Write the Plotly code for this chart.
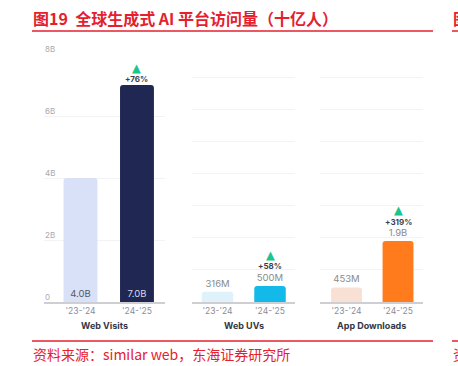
import plotly.graph_objects as go

W, H = 458, 366

categories = ["'23-'24", "'24-'25"]
panel_titles = ["Web Visits", "Web UVs", "App Downloads"]
web_visits = [4.0, 7.0]
web_uvs = [0.316, 0.500]
app_downloads = [0.453, 1.9]
visits_labels = ["4.0B", "7.0B"]
uvs_labels = ["316M", "500M"]
downloads_labels = ["453M", "1.9B"]
growth_labels = ["+76%", "+58%", "+319%"]
y_tick_vals = [0, 2, 4, 6, 8]
y_tick_text = ["0", "2B", "4B", "6B", "8B"]

RED = "#e5202e"
GREEN = "#1cc48e"
FONT = "Inter, Roboto, 'Noto Sans', sans-serif"
CJK = "'Noto Sans CJK SC', sans-serif"


def px_x(p):
    return p / W


def px_y(p):
    return 1 - p / H


fig = go.Figure()

panels = [
    dict(vals=web_visits, labels=visits_labels, colors=["#d9e1f8", "#1f2752"],
         textcolors=["#555a66", "#d6d9e4"], pos="inside",
         xr=[-0.646, 1.496], xd=[44, 165], ytop=54, dtick=2, grow_shift=(6, 17)),
    dict(vals=web_uvs, labels=uvs_labels, colors=["#dff1fa", "#12b9e9"],
         textcolors=["#8a8a8a", "#8a8a8a"], pos="outside",
         xr=[-0.486, 1.476], xd=[192, 295], ytop=45, dtick=1, grow_shift=(20, 31)),
    dict(vals=app_downloads, labels=downloads_labels, colors=["#f9e0d4", "#ff7b1c"],
         textcolors=["#8a8a8a", "#8a8a8a"], pos="outside",
         xr=[-0.515, 1.485], xd=[320, 423], ytop=45, dtick=1, grow_shift=(19, 31)),
]

annotations = []
for i, p in enumerate(panels):
    n = "" if i == 0 else str(i + 1)
    xa, ya = "x" + n, "y" + n
    fig.add_trace(go.Bar(
        x=[0, 1], y=p["vals"], xaxis=xa, yaxis=ya,
        marker=dict(color=p["colors"], line=dict(width=0)),
        width=0.6,
        text=p["labels"], textposition=p["pos"],
        insidetextanchor="start" if p["pos"] == "inside" else None,
        textfont=dict(family=FONT, size=9.5, color=p["textcolors"]),
        cliponaxis=False, hoverinfo="skip", showlegend=False,
    ))
    layout_x = dict(domain=[px_x(p["xd"][0]), px_x(p["xd"][1])], range=p["xr"],
                    tickvals=[0, 1], ticktext=categories, showgrid=False,
                    showline=True, linecolor="#cfcfd3", linewidth=2, ticks="",
                    tickfont=dict(family=FONT, size=8.5, color="#8a8c99"),
                    zeroline=False, fixedrange=True, anchor=ya)
    layout_y = dict(domain=[px_y(302), px_y(p["ytop"])], range=[0, 8], dtick=p["dtick"],
                    showgrid=True, gridcolor="#f3f3f5", gridwidth=1,
                    showticklabels=False, zeroline=False, showline=False,
                    ticks="", fixedrange=True, anchor=xa)
    fig.update_layout(**{"xaxis" + n: layout_x, "yaxis" + n: layout_y})

    cx = (p["xd"][0] + p["xd"][1]) / 2
    annotations.append(dict(x=px_x(cx), y=px_y(325), xref="paper", yref="paper",
                            text="<b>" + panel_titles[i] + "</b>", showarrow=False,
                            font=dict(family=FONT, size=9, color="#333844"),
                            xanchor="center", yanchor="middle"))
    top = p["vals"][1]
    annotations.append(dict(x=1, y=top, xref=xa, yref=ya, text="<b>" + growth_labels[i] + "</b>",
                            showarrow=False, yshift=p["grow_shift"][0],
                            font=dict(family=FONT, size=8, color="#3a3f4b"),
                            xanchor="center", yanchor="middle"))
    annotations.append(dict(x=1, y=top, xref=xa, yref=ya, text="▲",
                            showarrow=False, yshift=p["grow_shift"][1],
                            font=dict(family="DejaVu Sans", size=11.5, color=GREEN),
                            xanchor="center", yanchor="middle"))

for v, t in zip(y_tick_vals, y_tick_text):
    annotations.append(dict(x=px_x(43), y=v, xref="paper", yref="y", text=t,
                            showarrow=False, yshift=5,
                            font=dict(family=FONT, size=8, color="#a8a8b0"),
                            xanchor="left", yanchor="middle"))

annotations.append(dict(x=px_x(31), y=px_y(18), xref="paper", yref="paper",
                        text="<b>图19  全球生成式 AI 平台访问量（十亿人）</b>",
                        showarrow=False, xanchor="left", yanchor="middle",
                        font=dict(family=CJK, size=16, color=RED)))
annotations.append(dict(x=px_x(31), y=px_y(354), xref="paper", yref="paper",
                        text="资料来源：similar web，东海证券研究所",
                        showarrow=False, xanchor="left", yanchor="middle",
                        font=dict(family=CJK, size=14, color=RED)))
annotations.append(dict(x=px_x(451), y=px_y(18), xref="paper", yref="paper",
                        text="<b>图</b>", showarrow=False, xanchor="left", yanchor="middle",
                        font=dict(family=CJK, size=16, color=RED)))
annotations.append(dict(x=px_x(451), y=px_y(354), xref="paper", yref="paper",
                        text="资", showarrow=False, xanchor="left", yanchor="middle",
                        font=dict(family=CJK, size=14, color=RED)))

shapes = []
for y in (31, 341):
    shapes.append(dict(type="line", xref="paper", yref="paper",
                       x0=px_x(32), x1=px_x(433), y0=px_y(y), y1=px_y(y),
                       line=dict(color=RED, width=1.5)))
    shapes.append(dict(type="line", xref="paper", yref="paper",
                       x0=px_x(452), x1=px_x(460), y0=px_y(y), y1=px_y(y),
                       line=dict(color=RED, width=1.5)))

fig.update_layout(
    width=W, height=H,
    margin=dict(l=0, r=0, t=0, b=0),
    paper_bgcolor="white", plot_bgcolor="white",
    annotations=annotations, shapes=shapes,
    barcornerradius=3,
    font=dict(family=FONT),
)

fig.write_html("out.html", config={"displayModeBar": False},
               post_script="document.body.style.margin='0';document.body.style.overflow='hidden';")
